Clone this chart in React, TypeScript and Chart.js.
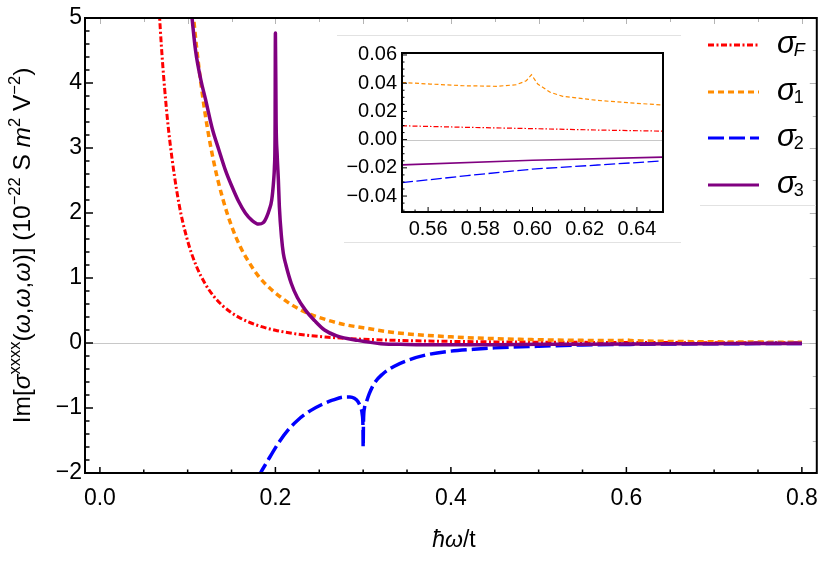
import { useEffect, useRef } from 'react';
import { Chart, registerables } from 'chart.js';
Chart.register(...registerables);

const FONT = '"Liberation Sans", Arial, Helvetica, sans-serif';

// ---------- main plot data ----------
const sigmaFX = [0.065, 0.07, 0.075, 0.08, 0.09, 0.10, 0.11, 0.12, 0.13, 0.14, 0.15, 0.16, 0.18, 0.20, 0.22, 0.24, 0.26, 0.28, 0.30, 0.33, 0.36, 0.40, 0.45, 0.50, 0.55, 0.60, 0.65, 0.70, 0.75, 0.80];
const sigmaFY = [5.72, 4.58, 3.72, 3.07, 2.15, 1.57, 1.18, 0.91, 0.715, 0.572, 0.465, 0.383, 0.269, 0.196, 0.147, 0.114, 0.089, 0.0715, 0.058, 0.0437, 0.0336, 0.0245, 0.0172, 0.0126, 0.0098, 0.0077, 0.006, 0.0048, 0.0039, 0.0032];

const sigma1X = [0.104, 0.11, 0.12, 0.13, 0.14, 0.15, 0.16, 0.17, 0.18, 0.19, 0.20, 0.22, 0.24, 0.26, 0.28, 0.30, 0.33, 0.36, 0.40, 0.45, 0.50, 0.55, 0.58, 0.595, 0.60, 0.605, 0.62, 0.65, 0.70, 0.75, 0.80];
const sigma1Y = [5.4, 4.57, 3.52, 2.77, 2.22, 1.80, 1.48, 1.24, 1.04, 0.89, 0.77, 0.575, 0.44, 0.35, 0.28, 0.235, 0.17, 0.13, 0.095, 0.067, 0.05, 0.0405, 0.0378, 0.039, 0.046, 0.039, 0.031, 0.0245, 0.018, 0.014, 0.011];

const sigma2X = [0.18, 0.183, 0.19, 0.2034, 0.215, 0.226, 0.24, 0.2524, 0.265, 0.2787, 0.285, 0.29, 0.294, 0.2968, 0.299, 0.2998, 0.3, 0.3004, 0.3015, 0.3032, 0.307, 0.3127, 0.322, 0.335, 0.35, 0.373, 0.40, 0.4256, 0.45, 0.50, 0.55, 0.60, 0.65, 0.70, 0.75, 0.80];
const sigma2Y = [-2.08, -2.0, -1.84, -1.54, -1.33, -1.18, -1.04, -0.95, -0.88, -0.83, -0.83, -0.85, -0.9, -0.98, -1.1, -1.3, -1.6, -1.2, -1.0, -0.93, -0.78, -0.62, -0.48, -0.36, -0.27, -0.18, -0.125, -0.097, -0.075, -0.05, -0.0305, -0.022, -0.0151, -0.012, -0.009, -0.007];

const sigma3X = [0.103, 0.105, 0.109, 0.115, 0.1205, 0.128, 0.1356, 0.143, 0.1507, 0.158, 0.1657, 0.173, 0.1808, 0.186, 0.190, 0.193, 0.1958, 0.198, 0.1989, 0.1996, 0.2, 0.2008, 0.202, 0.2034, 0.2045, 0.207, 0.209, 0.212, 0.218, 0.225, 0.234, 0.245, 0.256, 0.27, 0.294, 0.32, 0.35, 0.40, 0.45, 0.50, 0.55, 0.60, 0.65, 0.70, 0.75, 0.80];
const sigma3Y = [5.3, 5.0, 4.5, 4.05, 3.74, 3.3, 2.97, 2.66, 2.40, 2.18, 2.0, 1.89, 1.83, 1.85, 1.94, 2.05, 2.2, 2.5, 2.71, 3.2, 4.77, 3.4, 2.9, 2.5, 2.1, 1.62, 1.38, 1.2, 0.92, 0.70, 0.51, 0.34, 0.2, 0.11, 0.04, -0.01, -0.022, -0.027, -0.025, -0.021, -0.018, -0.015, -0.0124, -0.010, -0.0085, -0.007];

// ---------- inset data ----------
const insetFX = [0.55, 0.575, 0.60, 0.625, 0.65];
const insetFY = [0.0098, 0.0087, 0.0078, 0.0068, 0.006];
const inset1X = [0.55, 0.5608, 0.5735, 0.5862, 0.5938, 0.5976, 0.5996, 0.602, 0.6039, 0.6066, 0.6116, 0.6243, 0.637, 0.65];
const inset1Y = [0.0405, 0.0394, 0.0382, 0.0378, 0.0389, 0.0417, 0.046, 0.0394, 0.0371, 0.0337, 0.0307, 0.0279, 0.0261, 0.0245];
const inset2X = [0.55, 0.575, 0.60, 0.625, 0.65];
const inset2Y = [-0.0305, -0.0255, -0.0209, -0.018, -0.0151];
const inset3X = [0.55, 0.60, 0.65];
const inset3Y = [-0.0179, -0.0146, -0.0124];

// ---------- ticks ----------
const mainXTicks = [0, 0.2, 0.4, 0.6, 0.8];
const mainYTicks = [-2, -1, 0, 1, 2, 3, 4, 5];
const insetXTicks = [0.56, 0.58, 0.60, 0.62, 0.64];
const insetYTicks = [-0.04, -0.02, 0, 0.02, 0.04, 0.06];

const legendSubs = ['F', '1', '2', '3'];

// ---------- styles ----------
const styles = [
  { color: '#ff0000', dash: [6, 2.5, 2, 2.5], width: 3, insetDash: [5, 2, 1.5, 2], insetWidth: 1.2, subItalic: true },
  { color: '#ff8c00', dash: [6, 4], width: 3.5, insetDash: [4, 2.5], insetWidth: 1.2, subItalic: false },
  { color: '#0000ff', dash: [16, 5], width: 3.5, insetDash: [11, 3.5], insetWidth: 1.3, subItalic: false },
  { color: '#800080', dash: [] as number[], width: 3.5, insetDash: [] as number[], insetWidth: 1.6, subItalic: false },
];

const minus = (s: string) => s.replace('-', '\u2212');

type Run = { t: string; s: number; i?: boolean; dy?: number };
const runFont = (r: Run) => `${r.i ? 'italic ' : ''}${r.s}px ${FONT}`;

function drawRuns(ctx: CanvasRenderingContext2D, runs: Run[], x: number, y: number, align: 'center' | 'left') {
  const widths = runs.map((r) => {
    ctx.font = runFont(r);
    return ctx.measureText(r.t).width;
  });
  const total = widths.reduce((a, b) => a + b, 0);
  let cx = align === 'center' ? x - total / 2 : x;
  runs.forEach((r, k) => {
    ctx.font = runFont(r);
    ctx.fillText(r.t, cx, y + (r.dy || 0));
    cx += widths[k];
  });
  return total;
}

const mkData = (xs: number[], ys: number[]) => xs.map((x, k) => ({ x, y: ys[k] }));

function tickLine(ctx: CanvasRenderingContext2D, x1: number, y1: number, x2: number, y2: number) {
  ctx.beginPath();
  ctx.moveTo(x1, y1);
  ctx.lineTo(x2, y2);
  ctx.stroke();
}

const mainDecor = {
  id: 'mainDecor',
  beforeDatasetsDraw(chart: any) {
    const { ctx, chartArea: a, scales } = chart;
    const y0 = Math.round(scales.y.getPixelForValue(0)) + 0.5;
    ctx.save();
    ctx.strokeStyle = '#c8c8c8';
    ctx.lineWidth = 1;
    tickLine(ctx, a.left, y0, a.right, y0);
    ctx.restore();
  },
  afterDraw(chart: any) {
    const { ctx, chartArea: a, scales } = chart;
    const sx = scales.x;
    const sy = scales.y;
    ctx.save();
    // gray mirrored ticks (top, right)
    ctx.strokeStyle = '#b4b4b4';
    ctx.lineWidth = 1;
    for (let k = 0; k <= 16; k++) {
      const px = Math.round(sx.getPixelForValue(k * 0.05)) + 0.5;
      tickLine(ctx, px, a.top, px, a.top + (k % 2 === 0 ? 6 : 4));
    }
    for (let k = -4; k <= 10; k++) {
      const py = Math.round(sy.getPixelForValue(k * 0.5)) + 0.5;
      tickLine(ctx, a.right, py, a.right - (k % 2 === 0 ? 7 : 4), py);
    }
    // black ticks (bottom, left)
    ctx.strokeStyle = '#000';
    ctx.lineWidth = 1.5;
    for (let k = 0; k <= 16; k++) {
      const px = sx.getPixelForValue(k * 0.05);
      tickLine(ctx, px, a.bottom, px, a.bottom - (k % 4 === 0 ? 6 : 3.5));
    }
    for (let k = -10; k <= 25; k++) {
      const py = sy.getPixelForValue(k * 0.2);
      tickLine(ctx, a.left, py, a.left + (k % 5 === 0 ? 8 : 4.5), py);
    }
    // frame
    ctx.lineWidth = 2;
    ctx.strokeRect(a.left, a.top, a.right - a.left, a.bottom - a.top);

    // faint inset / legend box edges
    ctx.strokeStyle = '#e2e2e2';
    ctx.lineWidth = 1;
    tickLine(ctx, 337, 35.5, 681, 35.5);
    tickLine(ctx, 344, 242.5, 681, 242.5);
    tickLine(ctx, 700, 205.5, 816, 205.5);

    // y title
    ctx.fillStyle = '#000';
    ctx.textBaseline = 'alphabetic';
    ctx.textAlign = 'left';
    ctx.save();
    ctx.translate(30, (a.top + a.bottom) / 2);
    ctx.rotate(-Math.PI / 2);
    const B = 24.5;
    const S = 16.5;
    const up = -10;
    drawRuns(ctx, [
      { t: 'Im[', s: B },
      { t: 'σ', s: B, i: true },
      { t: 'xxxx', s: S, dy: up },
      { t: '(', s: B },
      { t: 'ω', s: B, i: true },
      { t: ',', s: B },
      { t: 'ω', s: B, i: true },
      { t: ',', s: B },
      { t: 'ω', s: B, i: true },
      { t: ')] (10', s: B },
      { t: '\u221222', s: S, dy: up },
      { t: ' S ', s: B },
      { t: 'm', s: B, i: true },
      { t: '2', s: S, dy: up },
      { t: ' V', s: B },
      { t: '\u22122', s: S, dy: up },
      { t: ')', s: B },
    ], 0, 0, 'center');
    ctx.restore();

    // x title
    drawRuns(ctx, [
      { t: 'ħω', s: 23, i: true },
      { t: '/t', s: 23 },
    ], 454, 547, 'center');

    // legend
    const rows = [45, 92, 138, 185];
    styles.forEach((st, k) => {
      const ly = rows[k];
      ctx.save();
      ctx.strokeStyle = st.color;
      ctx.lineWidth = 3;
      ctx.setLineDash(st.dash.length ? st.dash : []);
      tickLine(ctx, 708, ly, 759, ly);
      ctx.restore();
      ctx.fillStyle = '#000';
      ctx.font = runFont({ t: 'σ', s: 31, i: true });
      ctx.fillText('σ', 777, ly + 8);
      const w = ctx.measureText('σ').width;
      ctx.font = runFont({ t: legendSubs[k], s: 18, i: st.subItalic });
      ctx.fillText(legendSubs[k], 777 + w - 2, ly + 11);
    });
    ctx.restore();
  },
};

const insetDecor = {
  id: 'insetDecor',
  beforeDraw(chart: any) {
    const { ctx, width, height } = chart;
    ctx.save();
    ctx.fillStyle = '#fff';
    ctx.fillRect(0, 0, width, height);
    ctx.restore();
  },
  beforeDatasetsDraw(chart: any) {
    const { ctx, chartArea: a, scales } = chart;
    const y0 = Math.round(scales.y.getPixelForValue(0)) + 0.5;
    ctx.save();
    ctx.strokeStyle = '#c8c8c8';
    ctx.lineWidth = 1;
    tickLine(ctx, a.left, y0, a.right, y0);
    ctx.restore();
  },
  afterDraw(chart: any) {
    const { ctx, chartArea: a, scales } = chart;
    const sx = scales.x;
    const sy = scales.y;
    ctx.save();
    ctx.strokeStyle = '#000';
    ctx.lineWidth = 1;
    for (let k = 110; k <= 130; k++) {
      const px = sx.getPixelForValue(k * 0.005);
      tickLine(ctx, px, a.bottom, px, a.bottom - (k % 4 === 0 ? 5 : 2.5));
    }
    for (let k = -10; k <= 12; k++) {
      const py = sy.getPixelForValue(k * 0.005);
      tickLine(ctx, a.left, py, a.left + (k % 4 === 0 ? 5 : 2.5), py);
    }
    ctx.lineWidth = 2;
    ctx.strokeRect(a.left, a.top, a.right - a.left, a.bottom - a.top);
    ctx.restore();
  },
};

export default function App() {
  const mainRef = useRef<HTMLCanvasElement>(null);
  const insetRef = useRef<HTMLCanvasElement>(null);

  useEffect(() => {
    const mainSeries = [
      mkData(sigmaFX, sigmaFY),
      mkData(sigma1X, sigma1Y),
      mkData(sigma2X, sigma2Y),
      mkData(sigma3X, sigma3Y),
    ];
    const insetSeries = [
      mkData(insetFX, insetFY),
      mkData(inset1X, inset1Y),
      mkData(inset2X, inset2Y),
      mkData(inset3X, inset3Y),
    ];
    const labels = ['σF', 'σ1', 'σ2', 'σ3'];

    const main = new Chart(mainRef.current as HTMLCanvasElement, {
      type: 'line',
      data: {
        datasets: mainSeries.map((d, k) => ({
          label: labels[k],
          data: d,
          order: 3 - k,
          borderColor: styles[k].color,
          borderWidth: styles[k].width,
          borderDash: styles[k].dash,
          borderCapStyle: 'butt',
          borderJoinStyle: 'round',
          pointRadius: 0,
          cubicInterpolationMode: 'monotone',
          fill: false,
        })),
      },
      options: {
        responsive: false,
        animation: false,
        layout: { padding: { top: 18, right: 7, left: 0, bottom: 0 } },
        plugins: { legend: { display: false }, tooltip: { enabled: false } },
        scales: {
          x: {
            type: 'linear',
            min: -0.017,
            max: 0.817,
            grid: { display: false, drawTicks: false },
            border: { display: false },
            afterBuildTicks: (s: any) => { s.ticks = mainXTicks.map((v) => ({ value: v })); },
            afterFit: (s: any) => { s.height = 90; },
            ticks: {
              autoSkip: false,
              maxRotation: 0,
              padding: 12,
              color: '#000',
              font: { family: FONT, size: 23 },
              callback: (v: any) => minus(Number(v).toFixed(1)),
            },
          },
          y: {
            type: 'linear',
            min: -2,
            max: 5,
            grid: { display: false, drawTicks: false },
            border: { display: false },
            afterBuildTicks: (s: any) => { s.ticks = mainYTicks.map((v) => ({ value: v })); },
            afterFit: (s: any) => { s.width = 85; },
            ticks: {
              autoSkip: false,
              padding: 3,
              color: '#000',
              font: { family: FONT, size: 23 },
              callback: (v: any) => minus(String(Math.round(Number(v)))),
            },
          },
        },
      } as any,
      plugins: [mainDecor],
    });

    const inset = new Chart(insetRef.current as HTMLCanvasElement, {
      type: 'line',
      data: {
        datasets: insetSeries.map((d, k) => ({
          label: labels[k],
          data: d,
          order: 3 - k,
          borderColor: styles[k].color,
          borderWidth: styles[k].insetWidth,
          borderDash: styles[k].insetDash,
          borderCapStyle: 'butt',
          pointRadius: 0,
          tension: 0,
          fill: false,
        })),
      },
      options: {
        responsive: false,
        animation: false,
        layout: { padding: { top: 12, right: 17, left: 0, bottom: 0 } },
        plugins: { legend: { display: false }, tooltip: { enabled: false } },
        scales: {
          x: {
            type: 'linear',
            min: 0.55,
            max: 0.65,
            grid: { display: false, drawTicks: false },
            border: { display: false },
            afterBuildTicks: (s: any) => { s.ticks = insetXTicks.map((v) => ({ value: v })); },
            afterFit: (s: any) => { s.height = 29; },
            ticks: {
              autoSkip: false,
              maxRotation: 0,
              padding: 5,
              color: '#000',
              font: { family: FONT, size: 20 },
              callback: (v: any) => minus(Number(v).toFixed(2)),
            },
          },
          y: {
            type: 'linear',
            min: -0.0513,
            max: 0.0614,
            grid: { display: false, drawTicks: false },
            border: { display: false },
            afterBuildTicks: (s: any) => { s.ticks = insetYTicks.map((v) => ({ value: v })); },
            afterFit: (s: any) => { s.width = 67; },
            ticks: {
              autoSkip: false,
              padding: 5,
              color: '#000',
              font: { family: FONT, size: 20 },
              callback: (v: any) => {
                const n = Number(v);
                return Math.abs(n) < 1e-9 ? '0.00' : minus(n.toFixed(2));
              },
            },
          },
        },
      } as any,
      plugins: [insetDecor],
    });

    return () => {
      main.destroy();
      inset.destroy();
    };
  }, []);

  return (
    <div style={{ position: 'absolute', left: 0, top: 0, width: 830, height: 563, background: '#fff' }}>
      <canvas
        ref={mainRef}
        width={830}
        height={563}
        style={{ position: 'absolute', left: 0, top: 0, width: 830, height: 563 }}
      />
      <canvas
        ref={insetRef}
        width={345}
        height={205}
        style={{ position: 'absolute', left: 335, top: 36, width: 345, height: 205 }}
      />
    </div>
  );
}
